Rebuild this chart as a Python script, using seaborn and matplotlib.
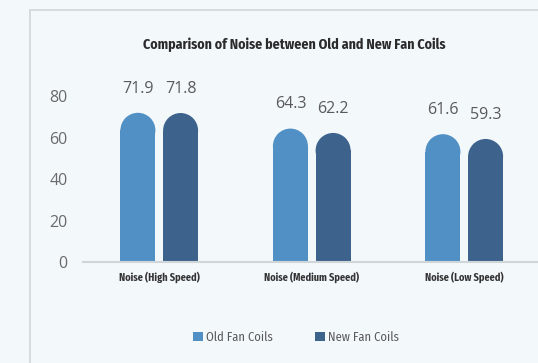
import matplotlib
matplotlib.use("Agg")
import matplotlib.pyplot as plt
from matplotlib import font_manager
from matplotlib.patches import Ellipse, Patch, Rectangle
import seaborn as sns
import pandas as pd

categories = ["Noise (High Speed)", "Noise (Medium Speed)", "Noise (Low Speed)"]
series = ["Old Fan Coils", "New Fan Coils"]
old_values = [71.9, 64.3, 61.6]
new_values = [71.8, 62.2, 59.3]
y_ticks = [0, 20, 40, 60, 80]
title = "Comparison of Noise between Old and New Fan Coils"

colors = {"Old Fan Coils": "#5190c5", "New Fan Coils": "#3d638d"}
bg = "#f3f8fb"

df = pd.DataFrame({
    "category": categories * 2,
    "series": [series[0]] * 3 + [series[1]] * 3,
    "value": old_values + new_values,
})

sns.set_theme(style="white")
plt.rcParams["font.family"] = ["Open Sans", "DejaVu Sans"]

# pick a condensed face for titles / category labels / legend
installed = {f.name for f in font_manager.fontManager.ttflist}
cond_face = next((n for n in ["Fira Sans Condensed", "Asap Condensed", "Roboto Condensed",
                              "Archivo Narrow", "Liberation Sans Narrow"] if n in installed),
                 "DejaVu Sans")
narrow = [cond_face, "DejaVu Sans"]

W, H, DPI = 538, 363, 100
fig = plt.figure(figsize=(W / DPI, H / DPI), dpi=DPI, facecolor=bg)

# outer panel frame
fig.add_artist(Rectangle((30 / W, -0.1), 1.2, 1 - 10 / H + 0.1, transform=fig.transFigure,
                         facecolor=bg, edgecolor="#d6dbde", linewidth=1.4, zorder=0))

ax_l, ax_b = 83 / W, (H - 262) / H
ax_w, ax_h = 457.5 / W, 207.5 / H
ax = fig.add_axes([ax_l, ax_b, ax_w, ax_h])
ax.set_facecolor(bg)

sns.barplot(data=df, x="category", y="value", hue="series", order=categories,
            hue_order=series, palette=colors, width=0.56, gap=0.18,
            saturation=1, linewidth=0, ax=ax, legend=False)

ax.set_xlim(-0.5, 2.5)
ax.set_ylim(0, 100)
ax.set_yticks(y_ticks)
ax.set_xlabel("")
ax.set_ylabel("")
for s in ["top", "right", "left"]:
    ax.spines[s].set_visible(False)
ax.spines["bottom"].set_color("#d0d5d8")
ax.spines["bottom"].set_linewidth(1.5)
ax.tick_params(axis="y", length=0, pad=11, labelsize=11.5, labelcolor="#6a6a6a")
ax.tick_params(axis="x", length=0, pad=7)
for lab in ax.get_xticklabels():
    lab.set_fontfamily(narrow)
    lab.set_fontweight("bold")
    lab.set_fontsize(7.4)
    lab.set_color("#333333")

# round the bar tops with a half-ellipse that is circular on screen
px_x = ax_w * W / 3.0
px_y = ax_h * H / 100.0
for bar in list(ax.patches):
    w = bar.get_width()
    v = bar.get_height()
    x0 = bar.get_x()
    ry = (w * px_x / 2) / px_y
    bar.set_height(v - ry)
    ax.add_patch(Ellipse((x0 + w / 2, v - ry), w, 2 * ry,
                         facecolor=bar.get_facecolor(), edgecolor="none", linewidth=0))
    ax.annotate(f"{v:.1f}", (x0 + w / 2, v), xytext=(0, 17.5), textcoords="offset points",
                ha="center", va="center", fontsize=11.5, color="#5a5a5a")

fig.text(294 / W, 1 - 45 / H, title, ha="center", va="center",
         fontsize=10, fontweight="bold", color="#2b2b2b", family=narrow)

handles = [Patch(facecolor=colors[s], edgecolor="none", label=s) for s in series]
leg = fig.legend(handles=handles, loc="center", bbox_to_anchor=(296 / W, 1 - 337 / H),
                 ncol=2, frameon=False, handlelength=0.8, handleheight=0.8,
                 handletextpad=0.2, columnspacing=3.4,
                 prop={"family": narrow, "size": 9})
for t in leg.get_texts():
    t.set_color("#5a5a5a")

fig.savefig("out.png", dpi=DPI, facecolor=bg)
